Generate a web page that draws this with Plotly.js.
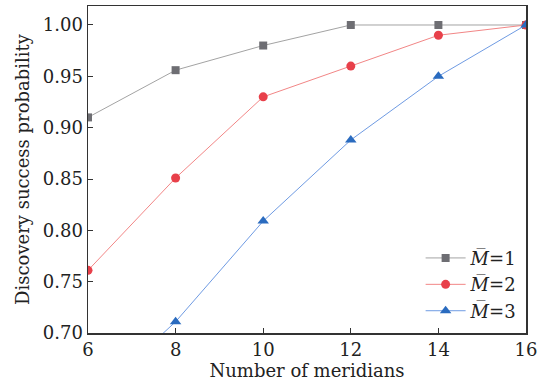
<!DOCTYPE html>
<html><head><meta charset="utf-8">
<script src="https://cdn.plot.ly/plotly-3.0.1.min.js"></script>
<style>body{margin:0;background:#fff}</style>
</head><body>
<div id="chart" style="width:543px;height:386px"></div>
<script>
var meridians = [6, 8, 10, 12, 14, 16];
var m1 = [0.910, 0.956, 0.980, 1.000, 1.000, 1.000];
var m2 = [0.761, 0.851, 0.930, 0.960, 0.990, 1.000];
var m3 = [0.632, 0.711, 0.809, 0.888, 0.950, 1.000];
var seriesNames = ['<i>M\u0305</i>=1', '<i>M\u0305</i>=2', '<i>M\u0305</i>=3'];
var xTicks = [6, 8, 10, 12, 14, 16];
var yTicks = [0.70, 0.75, 0.80, 0.85, 0.90, 0.95, 1.00];

var font = 'DejaVu Serif, Liberation Serif, serif';
function tr(y, name, lineColor, markColor, sym, size) {
  return {x: meridians, y: y, name: name, type: 'scatter', mode: 'lines+markers',
    line: {color: lineColor, width: 1},
    marker: {color: markColor, symbol: sym, size: size}, cliponaxis: true};
}
var data = [
  tr(m1, seriesNames[0], '#a3a3a3', '#6e6e73', 'square', 8),
  tr(m2, seriesNames[1], '#f28686', '#e8404a', 'circle', 9),
  tr(m3, seriesNames[2], '#6f9be3', '#2a6bbf', 'triangle-up', 10)
];
var layout = {
  width: 543, height: 386,
  margin: {l: 88, r: 17, t: 6, b: 53},
  paper_bgcolor: '#fff', plot_bgcolor: '#fff',
  font: {family: font, color: '#222', size: 18},
  showlegend: true,
  legend: {x: 0.99, y: 0.01, xanchor: 'right', yanchor: 'bottom', bgcolor: 'rgba(0,0,0,0)',
    font: {family: font, size: 18, color: '#222'}, tracegroupgap: 0, itemwidth: 40},
  xaxis: {range: [6, 16], tickvals: xTicks, ticktext: xTicks.map(String),
    ticks: 'inside', ticklen: 5, tickcolor: '#333', showline: true, linecolor: '#333', linewidth: 1.5,
    mirror: true, showgrid: false, zeroline: false,
    title: {text: 'Number of meridians', font: {family: font, size: 18}, standoff: 4}},
  yaxis: {range: [0.70, 1.0185], tickvals: yTicks, ticktext: yTicks.map(function(v){return v.toFixed(2);}),
    ticks: 'inside', ticklen: 5, tickcolor: '#333', showline: true, linecolor: '#333', linewidth: 1.5,
    mirror: true, showgrid: false, zeroline: false,
    title: {text: 'Discovery success probability', font: {family: font, size: 18}, standoff: 8}}
};
Plotly.newPlot('chart', data, layout, {displayModeBar: false, staticPlot: true});
</script>
</body></html>
